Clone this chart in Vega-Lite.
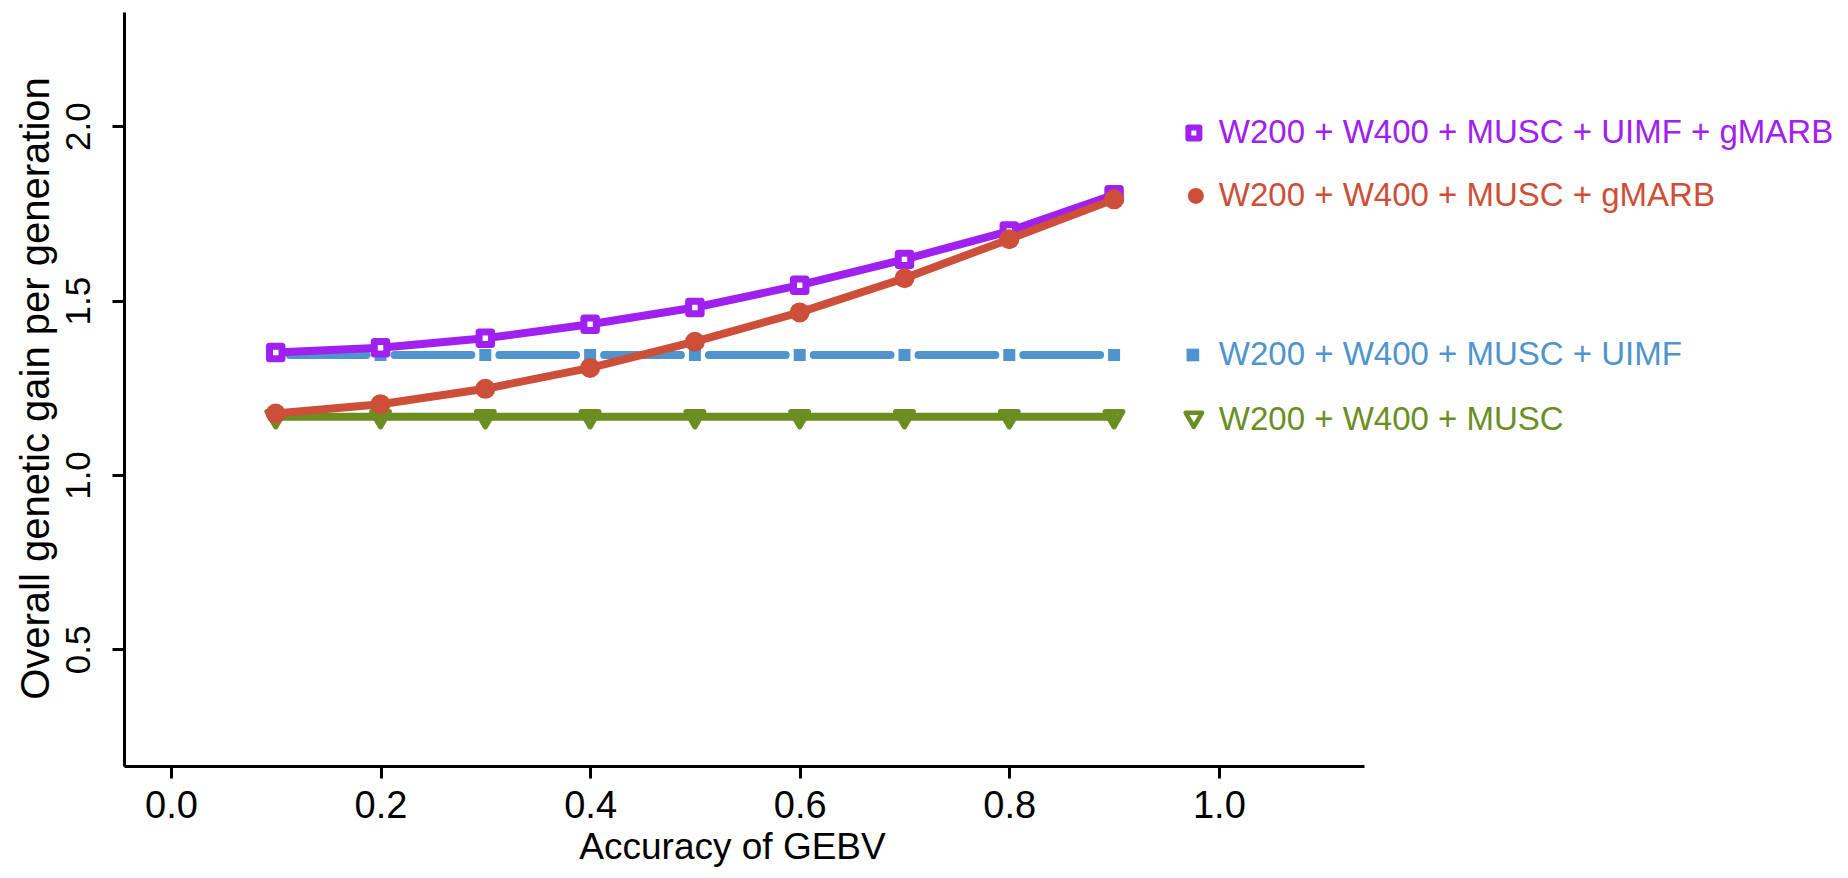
{
  "$schema": "https://vega.github.io/schema/vega-lite/v6.json",
  "width": 1240,
  "height": 754,
  "autosize": {"type": "none"},
  "padding": {"left": 124, "top": 12, "right": 484, "bottom": 112},
  "background": "white",
  "config": {"view": {"stroke": null}, "font": "Liberation Sans"},
  "data": {
    "values": [
      {"series": "W200 + W400 + MUSC", "accuracy": 0.1, "gain": 1.167},
      {"series": "W200 + W400 + MUSC", "accuracy": 0.2, "gain": 1.167},
      {"series": "W200 + W400 + MUSC", "accuracy": 0.3, "gain": 1.167},
      {"series": "W200 + W400 + MUSC", "accuracy": 0.4, "gain": 1.167},
      {"series": "W200 + W400 + MUSC", "accuracy": 0.5, "gain": 1.167},
      {"series": "W200 + W400 + MUSC", "accuracy": 0.6, "gain": 1.167},
      {"series": "W200 + W400 + MUSC", "accuracy": 0.7, "gain": 1.167},
      {"series": "W200 + W400 + MUSC", "accuracy": 0.8, "gain": 1.167},
      {"series": "W200 + W400 + MUSC", "accuracy": 0.9, "gain": 1.167},
      {"series": "W200 + W400 + MUSC + UIMF", "accuracy": 0.1, "gain": 1.344},
      {"series": "W200 + W400 + MUSC + UIMF", "accuracy": 0.2, "gain": 1.344},
      {"series": "W200 + W400 + MUSC + UIMF", "accuracy": 0.3, "gain": 1.344},
      {"series": "W200 + W400 + MUSC + UIMF", "accuracy": 0.4, "gain": 1.344},
      {"series": "W200 + W400 + MUSC + UIMF", "accuracy": 0.5, "gain": 1.344},
      {"series": "W200 + W400 + MUSC + UIMF", "accuracy": 0.6, "gain": 1.344},
      {"series": "W200 + W400 + MUSC + UIMF", "accuracy": 0.7, "gain": 1.344},
      {"series": "W200 + W400 + MUSC + UIMF", "accuracy": 0.8, "gain": 1.344},
      {"series": "W200 + W400 + MUSC + UIMF", "accuracy": 0.9, "gain": 1.344},
      {"series": "W200 + W400 + MUSC + UIMF + gMARB", "accuracy": 0.1, "gain": 1.351},
      {"series": "W200 + W400 + MUSC + UIMF + gMARB", "accuracy": 0.2, "gain": 1.365},
      {"series": "W200 + W400 + MUSC + UIMF + gMARB", "accuracy": 0.3, "gain": 1.392},
      {"series": "W200 + W400 + MUSC + UIMF + gMARB", "accuracy": 0.4, "gain": 1.432},
      {"series": "W200 + W400 + MUSC + UIMF + gMARB", "accuracy": 0.5, "gain": 1.480},
      {"series": "W200 + W400 + MUSC + UIMF + gMARB", "accuracy": 0.6, "gain": 1.544},
      {"series": "W200 + W400 + MUSC + UIMF + gMARB", "accuracy": 0.7, "gain": 1.618},
      {"series": "W200 + W400 + MUSC + UIMF + gMARB", "accuracy": 0.8, "gain": 1.699},
      {"series": "W200 + W400 + MUSC + UIMF + gMARB", "accuracy": 0.9, "gain": 1.803},
      {"series": "W200 + W400 + MUSC + gMARB", "accuracy": 0.1, "gain": 1.176},
      {"series": "W200 + W400 + MUSC + gMARB", "accuracy": 0.2, "gain": 1.203},
      {"series": "W200 + W400 + MUSC + gMARB", "accuracy": 0.3, "gain": 1.247},
      {"series": "W200 + W400 + MUSC + gMARB", "accuracy": 0.4, "gain": 1.307},
      {"series": "W200 + W400 + MUSC + gMARB", "accuracy": 0.5, "gain": 1.382},
      {"series": "W200 + W400 + MUSC + gMARB", "accuracy": 0.6, "gain": 1.466},
      {"series": "W200 + W400 + MUSC + gMARB", "accuracy": 0.7, "gain": 1.564},
      {"series": "W200 + W400 + MUSC + gMARB", "accuracy": 0.8, "gain": 1.676},
      {"series": "W200 + W400 + MUSC + gMARB", "accuracy": 0.9, "gain": 1.790}
    ]
  },
  "encoding": {
    "x": {
      "field": "accuracy",
      "type": "quantitative",
      "scale": {"domain": [-0.0448, 1.1385], "nice": false, "zero": false},
      "axis": {
        "values": [0, 0.2, 0.4, 0.6, 0.8, 1.0],
        "format": ".1f",
        "title": "Accuracy of GEBV",
        "grid": false,
        "domainColor": "black",
        "domainWidth": 3,
        "tickColor": "black",
        "tickWidth": 3,
        "tickSize": 12,
        "labelFont": "Liberation Sans",
        "labelFontSize": 38,
        "labelColor": "black",
        "labelPadding": 9,
        "labelFlush": false,
        "titleFont": "Liberation Sans",
        "titleFontSize": 37,
        "titleFontWeight": "normal",
        "titleColor": "black",
        "titlePadding": 4,
        "titleX": 608
      }
    },
    "y": {
      "field": "gain",
      "type": "quantitative",
      "scale": {"domain": [0.166, 2.327], "nice": false, "zero": false},
      "axis": {
        "values": [0.5, 1.0, 1.5, 2.0],
        "format": ".1f",
        "title": "Overall genetic gain per generation",
        "grid": false,
        "domainColor": "black",
        "domainWidth": 3,
        "tickColor": "black",
        "tickWidth": 3,
        "tickSize": 12,
        "labelFont": "Liberation Sans",
        "labelFontSize": 35,
        "labelColor": "black",
        "labelAngle": -90,
        "labelAlign": "center",
        "labelBaseline": "alphabetic",
        "labelPadding": 23,
        "labelFlush": false,
        "titleFont": "Liberation Sans",
        "titleFontSize": 40,
        "titleFontWeight": "normal",
        "titleColor": "black",
        "titleAngle": -90,
        "titleAlign": "center",
        "titleBaseline": "middle",
        "titleX": -88,
        "titleY": 376
      }
    }
  },
  "layer": [
    {
      "transform": [{"filter": "datum.series === 'W200 + W400 + MUSC'"}],
      "mark": {"type": "line", "color": "#6B8E23", "strokeWidth": 8, "strokeCap": "round", "strokeJoin": "round"}
    },
    {
      "transform": [{"filter": "datum.series === 'W200 + W400 + MUSC'"}],
      "mark": {"type": "point", "shape": "triangle-down", "filled": false, "color": "#6B8E23", "strokeWidth": 5.5, "size": 300, "opacity": 1, "strokeJoin": "round", "yOffset": 2.5}
    },
    {
      "transform": [{"filter": "datum.series === 'W200 + W400 + MUSC + UIMF'"}],
      "mark": {"type": "line", "color": "#4F94CD", "strokeWidth": 8, "strokeCap": "round", "strokeDash": [76.8, 28], "strokeDashOffset": 90.8}
    },
    {
      "transform": [{"filter": "datum.series === 'W200 + W400 + MUSC + UIMF'"}],
      "mark": {"type": "point", "shape": "square", "filled": true, "color": "#4F94CD", "size": 144, "opacity": 1}
    },
    {
      "transform": [{"filter": "datum.series === 'W200 + W400 + MUSC + UIMF + gMARB'"}],
      "mark": {"type": "line", "color": "#A020F0", "strokeWidth": 8, "strokeCap": "round", "strokeJoin": "round"}
    },
    {
      "transform": [{"filter": "datum.series === 'W200 + W400 + MUSC + UIMF + gMARB'"}],
      "mark": {"type": "point", "shape": "square", "filled": false, "fill": "white", "fillOpacity": 1, "color": "#A020F0", "strokeWidth": 7, "size": 156, "opacity": 1, "strokeJoin": "round"}
    },
    {
      "transform": [{"filter": "datum.series === 'W200 + W400 + MUSC + gMARB'"}],
      "mark": {"type": "line", "color": "#CD4F39", "strokeWidth": 8, "strokeCap": "round", "strokeJoin": "round"}
    },
    {
      "transform": [{"filter": "datum.series === 'W200 + W400 + MUSC + gMARB'"}],
      "mark": {"type": "point", "shape": "circle", "filled": true, "color": "#CD4F39", "size": 400, "opacity": 1}
    },
    {
      "data": {
        "values": [
          {"series": "W200 + W400 + MUSC + UIMF + gMARB", "accuracy": 1.0, "gain": 1.980},
          {"series": "W200 + W400 + MUSC + gMARB", "accuracy": 1.0, "gain": 1.800},
          {"series": "W200 + W400 + MUSC + UIMF", "accuracy": 1.0, "gain": 1.344},
          {"series": "W200 + W400 + MUSC", "accuracy": 1.0, "gain": 1.158}
        ]
      },
      "mark": {"type": "text", "align": "left", "baseline": "middle", "fontSize": 33, "font": "Liberation Sans"},
      "encoding": {
        "text": {"field": "series", "type": "nominal"},
        "color": {
          "field": "series",
          "type": "nominal",
          "scale": {
            "domain": ["W200 + W400 + MUSC + UIMF + gMARB", "W200 + W400 + MUSC + gMARB", "W200 + W400 + MUSC + UIMF", "W200 + W400 + MUSC"],
            "range": ["#A020F0", "#CD4F39", "#4F94CD", "#6B8E23"]
          },
          "legend": null
        }
      }
    },
    {
      "data": {"values": [{"series": "W200 + W400 + MUSC + UIMF + gMARB", "accuracy": 1.0, "gain": 1.980}]},
      "mark": {"type": "point", "shape": "square", "filled": false, "color": "#A020F0", "strokeWidth": 6, "size": 121, "opacity": 1, "xOffset": -25, "strokeJoin": "round"}
    },
    {
      "data": {"values": [{"series": "W200 + W400 + MUSC + gMARB", "accuracy": 1.0, "gain": 1.800}]},
      "mark": {"type": "point", "shape": "circle", "filled": true, "color": "#CD4F39", "size": 256, "opacity": 1, "xOffset": -23}
    },
    {
      "data": {"values": [{"series": "W200 + W400 + MUSC + UIMF", "accuracy": 1.0, "gain": 1.344}]},
      "mark": {"type": "point", "shape": "square", "filled": true, "color": "#4F94CD", "size": 160, "opacity": 1, "xOffset": -26}
    },
    {
      "data": {"values": [{"series": "W200 + W400 + MUSC", "accuracy": 1.0, "gain": 1.158}]},
      "mark": {"type": "point", "shape": "triangle-down", "filled": false, "color": "#6B8E23", "strokeWidth": 4.5, "size": 270, "opacity": 1, "xOffset": -25, "strokeJoin": "round"}
    }
  ]
}
